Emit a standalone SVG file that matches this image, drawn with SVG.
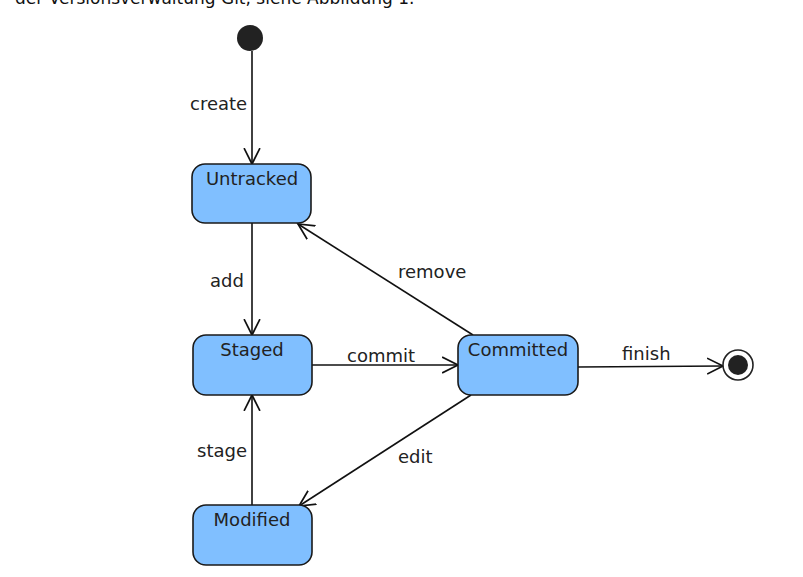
<svg xmlns="http://www.w3.org/2000/svg" width="803" height="577" viewBox="0 0 803 577">
<defs>
<marker id="open" markerWidth="18" markerHeight="18" refX="15" refY="8" orient="auto" markerUnits="userSpaceOnUse" viewBox="0 0 17 16">
<path d="M0,0.5 L15,8 L0,15.5" fill="none" stroke="#111" stroke-width="1.6"/>
</marker>
</defs>
<style>
.st{fill:#80bfff;stroke:#1a1a1a;stroke-width:1.6}
.lbl{font-family:"DejaVu Sans",sans-serif;font-size:18px;fill:#222}
.ct{text-anchor:middle}
.e{fill:none;stroke:#111;stroke-width:1.6;marker-end:url(#open)}
</style>
<rect width="803" height="577" fill="#fff"/>
<text x="15" y="4" style="font-family:'DejaVu Sans',sans-serif;font-size:17px;fill:#111">der Versionsverwaltung Git, siehe Abbildung 1.</text>
<g id="connectors">
<path class="e" d="M252,51 L252,164"/>
<path class="e" d="M252,223 L252,335"/>
<path class="e" d="M312,365 L458,365"/>
<path class="e" d="M578,367 L723,366"/>
<path class="e" d="M252,505 L252,395"/>
<path class="e" d="M473,335 L298,224"/>
<path class="e" d="M471,395 L299,506"/>
<text class="lbl" x="190" y="110">create</text>
<text class="lbl" x="210" y="287">add</text>
<text class="lbl" x="347" y="362">commit</text>
<text class="lbl" x="622" y="360">finish</text>
<text class="lbl" x="197" y="457">stage</text>
<text class="lbl" x="398" y="278">remove</text>
<text class="lbl" x="398" y="463">edit</text>
</g>
<g id="initial"><circle cx="250" cy="38" r="13" fill="#222"/></g>
<g id="untracked"><rect class="st" x="192" y="164" width="119" height="59" rx="13"/><text class="lbl ct" x="252" y="185">Untracked</text></g>
<g id="staged"><rect class="st" x="193" y="335" width="119" height="60" rx="13"/><text class="lbl ct" x="252" y="356">Staged</text></g>
<g id="committed"><rect class="st" x="458" y="335" width="120" height="60" rx="13"/><text class="lbl ct" x="518" y="356">Committed</text></g>
<g id="modified"><rect class="st" x="193" y="505" width="119" height="60" rx="13"/><text class="lbl ct" x="252" y="526">Modified</text></g>
<g id="final"><circle cx="738" cy="365" r="15" fill="#fff" stroke="#222" stroke-width="1.6"/><circle cx="738" cy="365" r="10" fill="#222"/></g>
</svg>
